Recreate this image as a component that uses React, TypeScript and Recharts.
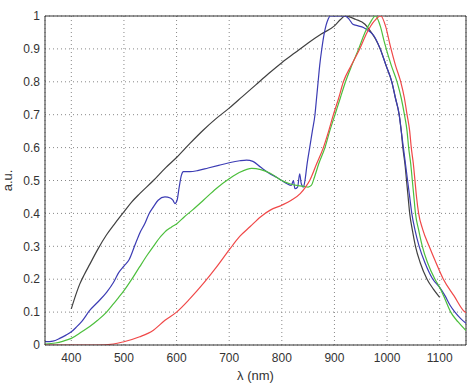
import React from 'react';
import {
  LineChart,
  Line,
  XAxis,
  YAxis,
  CartesianGrid,
  ReferenceLine,
} from 'recharts';

type Pt = [number, number];

// wavelength (nm), normalised intensity (a.u.)
const blackSeries: Pt[] = [
  [400, 0.11], [408, 0.15], [416, 0.185], [425, 0.215], [435, 0.245], [450, 0.29],
  [467, 0.335], [483, 0.37], [500, 0.405], [515, 0.435], [530, 0.46], [556, 0.5],
  [580, 0.54], [600, 0.57], [625, 0.612], [650, 0.652], [675, 0.688], [700, 0.72],
  [725, 0.755], [750, 0.79], [775, 0.825], [800, 0.858], [825, 0.888], [850, 0.918],
  [875, 0.945], [900, 0.97], [912, 0.99], [920, 1.0], [940, 0.99], [958, 0.975],
  [968, 0.955], [978, 0.93], [987, 0.9], [998, 0.85], [1009, 0.8], [1016, 0.75],
  [1023, 0.7], [1027, 0.65], [1030, 0.6], [1034, 0.55], [1037, 0.5], [1040, 0.45],
  [1043, 0.4], [1048, 0.35], [1054, 0.3], [1063, 0.25], [1076, 0.2], [1088, 0.17],
  [1100, 0.145],
];

const blueSeries: Pt[] = [
  [350, 0.01], [365, 0.012], [378, 0.02], [390, 0.03], [400, 0.04], [410, 0.055],
  [420, 0.072], [435, 0.105], [450, 0.13], [467, 0.16], [480, 0.19], [490, 0.22],
  [500, 0.24], [510, 0.26], [520, 0.3], [530, 0.34], [540, 0.37], [548, 0.4],
  [556, 0.42], [565, 0.44], [578, 0.45], [588, 0.447], [593, 0.44], [597, 0.43],
  [601, 0.44], [605, 0.48], [609, 0.515], [613, 0.527], [625, 0.527], [640, 0.53],
  [660, 0.538], [680, 0.546], [700, 0.554], [720, 0.56], [733, 0.562], [745, 0.558],
  [760, 0.54], [778, 0.52], [790, 0.51], [800, 0.5], [810, 0.49], [818, 0.485],
  [822, 0.5], [825, 0.475], [830, 0.48], [834, 0.52], [837, 0.49], [841, 0.48],
  [844, 0.5], [848, 0.55], [853, 0.6], [858, 0.65], [863, 0.7], [866, 0.75],
  [869, 0.8], [872, 0.85], [876, 0.9], [881, 0.95], [888, 0.99], [892, 1.0],
  [920, 1.0], [928, 0.99], [935, 0.975], [945, 0.97], [955, 0.965], [965, 0.955],
  [975, 0.94], [987, 0.9], [998, 0.85], [1009, 0.8], [1016, 0.75], [1023, 0.7],
  [1027, 0.65], [1031, 0.6], [1035, 0.55], [1039, 0.5], [1043, 0.45], [1047, 0.4],
  [1053, 0.35], [1061, 0.3], [1072, 0.25], [1087, 0.2], [1100, 0.175], [1110, 0.15],
  [1120, 0.12], [1129, 0.1], [1140, 0.08], [1150, 0.066],
];

const greenSeries: Pt[] = [
  [350, 0.003], [370, 0.006], [385, 0.012], [400, 0.02], [420, 0.04], [435, 0.056],
  [450, 0.075], [467, 0.1], [480, 0.125], [490, 0.145], [500, 0.165], [515, 0.2],
  [530, 0.238], [545, 0.275], [556, 0.3], [570, 0.33], [578, 0.344], [590, 0.358],
  [600, 0.368], [615, 0.39], [630, 0.41], [651, 0.44], [675, 0.475], [700, 0.505],
  [720, 0.525], [743, 0.537], [760, 0.533], [778, 0.522], [800, 0.5], [815, 0.49],
  [828, 0.485], [840, 0.483], [850, 0.48], [856, 0.485], [862, 0.51], [870, 0.55],
  [882, 0.6], [891, 0.65], [901, 0.7], [911, 0.75], [921, 0.8], [933, 0.85],
  [946, 0.9], [958, 0.95], [968, 0.98], [978, 1.0], [987, 0.97], [995, 0.92],
  [1008, 0.85], [1019, 0.8], [1027, 0.75], [1033, 0.7], [1038, 0.65], [1041, 0.6],
  [1045, 0.55], [1048, 0.5], [1051, 0.45], [1054, 0.4], [1060, 0.35], [1067, 0.3],
  [1077, 0.25], [1091, 0.2], [1100, 0.175], [1110, 0.14], [1121, 0.1], [1135, 0.07],
  [1150, 0.044],
];

const redSeries: Pt[] = [
  [350, 0.0], [450, 0.0], [480, 0.003], [500, 0.01], [530, 0.025], [556, 0.045],
  [578, 0.075], [600, 0.1], [625, 0.14], [651, 0.187], [675, 0.235], [700, 0.289],
  [720, 0.33], [740, 0.36], [760, 0.39], [778, 0.41], [800, 0.425], [818, 0.44],
  [835, 0.46], [845, 0.48], [853, 0.5], [866, 0.55], [879, 0.6], [889, 0.65],
  [898, 0.7], [908, 0.75], [917, 0.8], [932, 0.85], [948, 0.9], [962, 0.95],
  [976, 0.985], [988, 1.0], [997, 0.97], [1006, 0.91], [1016, 0.85], [1026, 0.8],
  [1033, 0.75], [1038, 0.7], [1043, 0.65], [1046, 0.6], [1050, 0.55], [1053, 0.5],
  [1056, 0.45], [1060, 0.4], [1068, 0.35], [1080, 0.3], [1093, 0.25], [1107, 0.2],
  [1127, 0.15], [1148, 0.1], [1150, 0.098],
];

const xTicks = [400, 500, 600, 700, 800, 900, 1000, 1100];
const yTicks = [0, 0.1, 0.2, 0.3, 0.4, 0.5, 0.6, 0.7, 0.8, 0.9, 1];

const toPts = (arr: Pt[]) => arr.map(([x, y]) => ({ x, y }));

const tickStyle = { fontSize: 12, fill: '#333', fontFamily: 'Liberation Sans, Arial, sans-serif' };

const App: React.FC = () => {
  return (
    <div style={{ position: 'absolute', left: 0, top: 0, background: '#fff' }}>
      <LineChart
        width={471}
        height={386}
        margin={{ top: 16, right: 5, bottom: 11, left: 0 }}
      >
        <CartesianGrid strokeDasharray="1 3" stroke="#888" />
        <XAxis
          dataKey="x"
          type="number"
          domain={[350, 1150]}
          ticks={xTicks}
          allowDataOverflow
          height={30}
          tickSize={0}
          tickMargin={8}
          tick={tickStyle}
          stroke="#333"
          label={({ viewBox }: any) => (
            <text
              x={viewBox.x + viewBox.width / 2}
              y={viewBox.y + 35}
              textAnchor="middle"
              fontSize={13}
              fill="#333"
              fontFamily="Liberation Sans, Arial, sans-serif"
            >
              λ (nm)
            </text>
          )}
        />
        <YAxis
          type="number"
          domain={[0, 1]}
          ticks={yTicks}
          allowDataOverflow
          width={45}
          tickSize={0}
          tickMargin={5}
          tick={tickStyle}
          tickFormatter={(v: number) => (v === 0 || v === 1 ? String(v) : v.toFixed(1))}
          stroke="#333"
          label={({ viewBox }: any) => {
            const cx = 12;
            const cy = viewBox.y + viewBox.height / 2;
            return (
              <text
                x={cx}
                y={cy}
                transform={`rotate(-90 ${cx} ${cy})`}
                textAnchor="middle"
                fontSize={13}
                fill="#333"
                fontFamily="Liberation Sans, Arial, sans-serif"
              >
                a.u.
              </text>
            );
          }}
        />
        <ReferenceLine y={1} stroke="#333" />
        <ReferenceLine x={1150} stroke="#333" />

        <Line data={toPts(blackSeries)} dataKey="y" type="monotone" stroke="#404040" strokeWidth={1.2} dot={false} isAnimationActive={false} />
        <Line data={toPts(blueSeries)} dataKey="y" type="monotone" stroke="#3c3cb4" strokeWidth={1.2} dot={false} isAnimationActive={false} />
        <Line data={toPts(greenSeries)} dataKey="y" type="monotone" stroke="#4cbf3c" strokeWidth={1.2} dot={false} isAnimationActive={false} />
        <Line data={toPts(redSeries)} dataKey="y" type="monotone" stroke="#f04848" strokeWidth={1.2} dot={false} isAnimationActive={false} />
      </LineChart>
    </div>
  );
};

export default App;
